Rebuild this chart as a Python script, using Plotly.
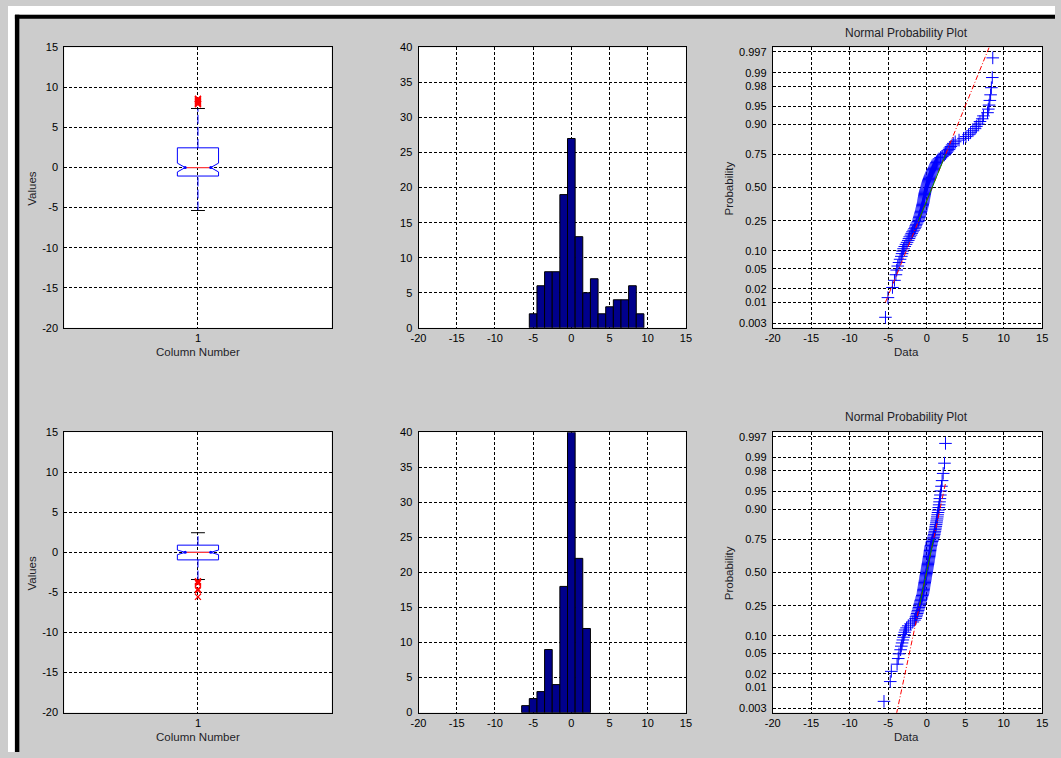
import plotly.graph_objects as go
from statistics import NormalDist

# ------------------------------------------------------------------ data
# sorted samples read from the normal-probability plots / histograms
sample_top = [
    -5.36, -5.04,
    -4.45, -4.19, -4.0, -3.9, -3.76, -3.6,
    -3.46, -3.3, -3.2, -3.12, -3.0, -2.85, -2.69, -2.55,
    -2.4, -2.3, -2.2, -2.05, -1.95, -1.84, -1.7, -1.58,
    -1.48, -1.41, -1.35, -1.25, -1.12, -1.06, -1.02, -0.97, -0.93, -0.88,
    -0.83, -0.78, -0.74, -0.7, -0.66, -0.62, -0.58, -0.55, -0.52,
    -0.48, -0.45, -0.42, -0.4, -0.37, -0.35, -0.32, -0.3, -0.27, -0.25,
    -0.22, -0.18, -0.15, -0.1, -0.06, -0.02, 0.02, 0.06, 0.1, 0.14, 0.18,
    0.22, 0.27, 0.32, 0.37, 0.42, 0.47,
    0.55, 0.6, 0.68, 0.75, 0.82, 0.9, 0.98, 1.05, 1.12, 1.2, 1.28, 1.36, 1.45,
    1.6, 1.8, 2.0, 2.3, 2.45,
    2.6, 2.75, 2.9, 3.0, 3.15, 3.3, 3.45,
    3.7, 4.2,
    4.78, 5.1, 5.43,
    5.7, 6.0, 6.28, 6.45,
    6.7, 6.92, 7.22, 7.37,
    7.9, 8.0, 8.1, 8.2, 8.3, 8.4,
    8.52, 8.58,
]
sample_bottom = [
    -5.55,
    -4.74, -4.6,
    -3.85, -3.7, -3.6,
    -3.39, -3.3, -3.2, -3.1, -3.0, -2.95, -2.85, -2.75, -2.62,
    -2.4, -2.1, -1.8, -1.6,
    -1.45, -1.38, -1.3, -1.24, -1.18, -1.12, -1.06, -1.0, -0.95, -0.91,
    -0.87, -0.82, -0.77, -0.72, -0.67, -0.62, -0.57, -0.52,
    -0.48, -0.46, -0.43, -0.41, -0.38, -0.36, -0.33, -0.31, -0.28, -0.26,
    -0.23, -0.21, -0.18, -0.16, -0.13, -0.11, -0.08, -0.05, -0.02, 0.0,
    0.02, 0.05, 0.07, 0.1, 0.12, 0.15, 0.17, 0.2, 0.22, 0.25, 0.27, 0.3,
    0.32, 0.35, 0.37, 0.4, 0.42, 0.44, 0.46, 0.49,
    0.52, 0.56, 0.6, 0.64, 0.7, 0.76, 0.82, 0.88, 0.93, 0.98, 1.02, 1.06,
    1.1, 1.14, 1.18, 1.22, 1.26, 1.3, 1.34, 1.38, 1.42, 1.47,
    1.52, 1.57, 1.62, 1.67, 1.71, 1.78, 1.84, 1.92, 2.0, 2.14, 2.31, 2.44,
]

# histogram bars
hist_centers_top = [-5, -4, -3, -2, -1, 0, 1, 2, 3, 4, 5, 6, 7, 8, 9]
hist_counts_top = [2, 6, 8, 8, 19, 27, 13, 5, 7, 2, 3, 4, 4, 6, 2]
hist_centers_bottom = [-6, -5, -4, -3, -2, -1, 0, 1, 2]
hist_counts_bottom = [1, 2, 3, 9, 4, 18, 40, 22, 12]

# box-plot statistics (top row, bottom row)
box_q1 = [-1.06, -0.94]
box_median = [0.0, 0.0]
box_q3 = [2.46, 0.90]
whisker_low = [-5.36, -3.39]
whisker_high = [7.37, 2.45]
notch_span = [0.55, 0.29]
outliers_top = [7.9, 8.0, 8.1, 8.2, 8.3, 8.4, 8.52, 8.58]
outliers_bottom = [-3.6, -3.7, -3.85, -4.6, -4.74, -5.55]
column_pos = [1]

# tick labels
value_ticks = [-20, -15, -10, -5, 0, 5, 10, 15]
count_ticks = [0, 5, 10, 15, 20, 25, 30, 35, 40]
prob_ticks = [0.003, 0.01, 0.02, 0.05, 0.10, 0.25, 0.50, 0.75, 0.90, 0.95, 0.98, 0.99, 0.997]
prob_labels = ["0.003", "0.01", "0.02", "0.05", "0.10", "0.25", "0.50",
               "0.75", "0.90", "0.95", "0.98", "0.99", "0.997"]

# ------------------------------------------------------------------ layout geometry
W, H = 1061, 758
FONT = "Liberation Sans, Arial, sans-serif"
col_px = [(57, 328), (416, 687), (775, 1048)]
row_px = [(42, 327), (433, 718)]
BOX_WIDTH = 0.154
NOTCH_W = 0.19


def xd(a, b):
    return [a / W, b / W]


def yd(a, b):
    return [1 - b / H, 1 - a / H]


ND = NormalDist()
fig = go.Figure()

axis_common = dict(
    showline=True, mirror=True, linecolor="black", linewidth=1,
    showgrid=True, gridcolor="black", griddash="3px,2px", gridwidth=1,
    zeroline=False, ticks="", tickfont=dict(family=FONT, size=11, color="black"),
)

layout_axes = {}
samples = [sample_top, sample_bottom]
hist_c = [hist_centers_top, hist_centers_bottom]
hist_n = [hist_counts_top, hist_counts_bottom]
outliers = [outliers_top, outliers_bottom]
value_text = [str(v) for v in value_ticks]
count_text = [str(v) for v in count_ticks]

for r in range(2):
    ids = [3 * r + 1, 3 * r + 2, 3 * r + 3]
    names = ["x" if i == 1 else f"x{i}" for i in ids]
    ynames = ["y" if i == 1 else f"y{i}" for i in ids]

    # ---------------- box plot
    fig.add_trace(go.Box(
        x=column_pos, q1=[box_q1[r]], median=[box_median[r]], q3=[box_q3[r]],
        lowerfence=[box_q1[r]], upperfence=[box_q3[r]], notchspan=[notch_span[r]],
        notched=True, notchwidth=NOTCH_W, width=BOX_WIDTH, whiskerwidth=0,
        line=dict(color="rgb(0,0,255)", width=1), fillcolor="rgba(0,0,0,0)",
        boxpoints=False, showlegend=False, xaxis=names[0], yaxis=ynames[0],
    ))
    for lo, hi in [(box_q3[r], whisker_high[r]), (whisker_low[r], box_q1[r])]:
        fig.add_trace(go.Scatter(
            x=column_pos * 2, y=[lo, hi], mode="lines",
            line=dict(color="rgb(0,0,255)", width=1, dash="9px,3px"),
            showlegend=False, xaxis=names[0], yaxis=ynames[0]))
    cap_half = 0.026
    for v in [whisker_low[r], whisker_high[r]]:
        fig.add_trace(go.Scatter(
            x=[column_pos[0] - cap_half, column_pos[0] + cap_half], y=[v, v], mode="lines",
            line=dict(color="black", width=1), showlegend=False,
            xaxis=names[0], yaxis=ynames[0]))
    med_half = BOX_WIDTH / 2 * (1 - 2 * NOTCH_W)
    fig.add_trace(go.Scatter(
        x=[column_pos[0] - med_half, column_pos[0] + med_half],
        y=[box_median[r], box_median[r]], mode="lines+markers",
        line=dict(color="rgb(255,60,60)", width=1.2),
        marker=dict(size=3, color=["rgb(0,0,255)", "rgb(0,0,255)"]),
        showlegend=False, xaxis=names[0], yaxis=ynames[0]))
    fig.add_trace(go.Scatter(
        x=column_pos * len(outliers[r]), y=outliers[r], mode="markers",
        marker=dict(symbol="x-thin-open", size=6, color="rgb(255,0,0)",
                    line=dict(color="rgb(255,0,0)", width=1.3)),
        showlegend=False, xaxis=names[0], yaxis=ynames[0]))

    # ---------------- histogram
    fig.add_trace(go.Bar(
        x=hist_c[r], y=hist_n[r], width=1.0,
        marker=dict(color="rgb(0,0,140)", line=dict(color="black", width=1)),
        showlegend=False, xaxis=names[1], yaxis=ynames[1]))

    # ---------------- normal probability plot
    data = sorted(samples[r])
    n = len(data)
    zq = [ND.inv_cdf((i + 0.5) / n) for i in range(n)]
    fig.add_trace(go.Scatter(
        x=data, y=zq, mode="markers",
        marker=dict(symbol="cross-thin-open", size=9, color="rgb(0,0,255)",
                    line=dict(color="rgb(0,0,255)", width=1)),
        showlegend=False, xaxis=names[2], yaxis=ynames[2]))
    z75 = ND.inv_cdf(0.75)
    mu = (box_q1[r] + box_q3[r]) / 2
    sig = (box_q3[r] - box_q1[r]) / (2 * z75)
    ext_x = [data[0], data[-1]]
    fig.add_trace(go.Scatter(
        x=ext_x, y=[(v - mu) / sig for v in ext_x], mode="lines",
        line=dict(color="rgb(255,0,0)", width=1, dash="5px,2px,1px,2px"),
        showlegend=False, xaxis=names[2], yaxis=ynames[2]))
    qx = [box_q1[r], box_q3[r]]
    fig.add_trace(go.Scatter(
        x=qx, y=[(v - mu) / sig for v in qx], mode="lines",
        line=dict(color="rgb(0,140,0)", width=1),
        showlegend=False, xaxis=names[2], yaxis=ynames[2]))

    # ---------------- axes
    ya, yb = row_px[r]
    keys = ["xaxis" if i == 1 else f"xaxis{i}" for i in ids]
    ykeys = ["yaxis" if i == 1 else f"yaxis{i}" for i in ids]
    layout_axes[keys[0]] = dict(axis_common, domain=xd(*col_px[0]), range=[0.5, 1.5],
                                tickvals=column_pos, ticktext=["1"], anchor=ynames[0])
    layout_axes[ykeys[0]] = dict(axis_common, domain=yd(ya, yb), range=[-20, 15],
                                 tickvals=value_ticks, ticktext=value_text,
                                 ticklabelstandoff=3, anchor=names[0])
    layout_axes[keys[1]] = dict(axis_common, domain=xd(*col_px[1]), range=[-20, 15],
                                tickvals=value_ticks, ticktext=value_text, anchor=ynames[1])
    layout_axes[ykeys[1]] = dict(axis_common, domain=yd(ya, yb), range=[0, 40],
                                 tickvals=count_ticks, ticktext=count_text,
                                 ticklabelstandoff=3, anchor=names[1])
    layout_axes[keys[2]] = dict(axis_common, domain=xd(*col_px[2]), range=[-20, 15],
                                tickvals=value_ticks, ticktext=value_text, anchor=ynames[2])
    layout_axes[ykeys[2]] = dict(axis_common, domain=yd(ya, yb), range=[-2.84, 2.84],
                                 tickvals=[ND.inv_cdf(p) for p in prob_ticks],
                                 ticktext=prob_labels, ticklabelstandoff=3, anchor=names[2])


# ------------------------------------------------------------------ labels
def ann(text, x, y, size=11.5, angle=0):
    return dict(text=text, x=x / W, y=1 - y / H, xref="paper", yref="paper",
                xanchor="center", yanchor="middle", showarrow=False, textangle=angle,
                font=dict(family=FONT, size=size, color="rgb(30,30,40)"))


annotations = []
for r, dy in enumerate([0, 391]):
    annotations.append(ann("Values", 24, 185 + dy, angle=-90))
    annotations.append(ann("Column Number", 192.5, 352 + dy))
    annotations.append(ann("Probability", 731, 185 + dy, angle=-90))
    annotations.append(ann("Data", 911, 352 + dy))
    annotations.append(ann("Normal Probability Plot", 911, 27 + dy, size=12))

shapes = [
    dict(type="rect", xref="paper", yref="paper", x0=0, x1=1, y0=1 - 9 / H, y1=1,
         fillcolor="white", line=dict(width=0), layer="above"),
    dict(type="rect", xref="paper", yref="paper", x0=0, x1=7 / W, y0=0, y1=1,
         fillcolor="white", line=dict(width=0), layer="above"),
    dict(type="rect", xref="paper", yref="paper", x0=7 / W, x1=1, y0=1 - 13 / H, y1=1 - 9 / H,
         fillcolor="black", line=dict(width=0), layer="above"),
    dict(type="rect", xref="paper", yref="paper", x0=7 / W, x1=11.5 / W, y0=0, y1=1 - 9 / H,
         fillcolor="black", line=dict(width=0), layer="above"),
]

fig.update_layout(
    width=W, height=H, margin=dict(l=0, r=0, t=0, b=0, pad=0),
    paper_bgcolor="rgb(204,204,204)", plot_bgcolor="white",
    showlegend=False, annotations=annotations, shapes=shapes,
    font=dict(family=FONT, size=11, color="black"),
    **layout_axes,
)

fig.write_html("out.html")
